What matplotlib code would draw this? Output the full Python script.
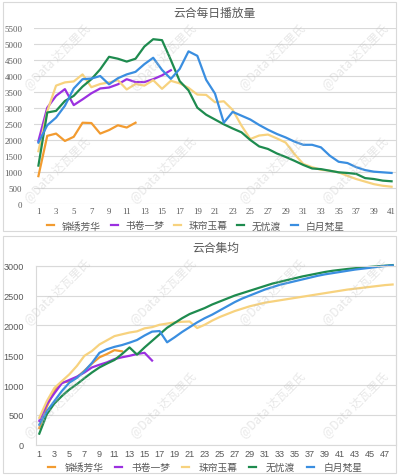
import numpy as np
import matplotlib
matplotlib.use("Agg")
import matplotlib.pyplot as plt
from matplotlib.patches import Rectangle

plt.rcParams['font.family'] = ['Noto Sans CJK SC', 'DejaVu Sans']

# ---- 数据 ----
names = ["锦绣芳华", "书卷一梦", "珠帘玉幕", "无忧渡", "白月梵星"]
colors = ["#F29B30", "#9B30E0", "#F7D27E", "#1E8B4F", "#3A8EE0"]

# 云合每日播放量
daily_jxfh = [870, 2130, 2200, 1970, 2100, 2540, 2530, 2200, 2310, 2460, 2390, 2540]
daily_sjym = [1970, 3010, 3380, 3590, 3090, 3270, 3460, 3610, 3640, 3740, 3900, 3810,
              3810, 3900, 4020, 4180]
daily_zlym = [1650, 2900, 3700, 3800, 3830, 4050, 3650, 3750, 3800, 3870, 3580, 3750,
              3700, 3870, 3600, 3850, 3770, 3630, 3420, 3410, 3180, 3210, 2940, 2450,
              2030, 2140, 2170, 2050, 1920, 1560, 1250, 1150, 1070, 1040, 990, 880,
              780, 700, 620, 570, 540]
daily_wyd = [1200, 2860, 2910, 3220, 3380, 3670, 3900, 4210, 4600, 4540, 4450, 4540,
             4920, 5150, 5120, 4500, 3840, 3550, 3010, 2790, 2640, 2490, 2360, 2240,
             2000, 1800, 1720, 1580, 1470, 1350, 1220, 1110, 1090, 1040, 990, 970,
             940, 810, 780, 730, 710]
daily_byfx = [1920, 2460, 2700, 3070, 3610, 3900, 3920, 4000, 3740, 3930, 4050, 4130,
              4370, 4570, 4190, 3910, 4220, 4770, 4630, 3880, 3450, 2540, 2880, 2760,
              2640, 2470, 2320, 2190, 2080, 1950, 1850, 1850, 1770, 1510, 1320, 1280,
              1150, 1060, 1010, 990, 970]

# 云合集均
avg_jxfh = [280, 640, 905, 1045, 1060, 1130, 1240, 1360, 1465, 1520, 1585, 1565]
avg_sjym = [400, 680, 860, 1030, 1085, 1140, 1210, 1295, 1340, 1380, 1435, 1465,
            1490, 1520, 1540, 1410]
avg_zlym = [450, 730, 950, 1065, 1180, 1320, 1490, 1570, 1680, 1750, 1820, 1850,
            1880, 1900, 1950, 1970, 2010, 2030, 2050, 2060, 2065, 1955, 2010, 2080,
            2140, 2190, 2240, 2280, 2320, 2350, 2380, 2400, 2420, 2440, 2460, 2480,
            2500, 2520, 2540, 2560, 2580, 2600, 2615, 2630, 2645, 2660, 2675, 2685]
avg_wyd = [185, 510, 690, 815, 925, 1015, 1115, 1210, 1295, 1360, 1420, 1520,
           1630, 1510, 1630, 1740, 1850, 1960, 2040, 2120, 2190, 2240, 2290, 2350,
           2400, 2450, 2500, 2540, 2580, 2620, 2660, 2700, 2730, 2760, 2790, 2820,
           2845, 2870, 2895, 2915, 2930, 2945, 2958, 2970, 2980, 2990, 3000, 3010]
avg_byfx = [335, 560, 730, 900, 1040, 1120, 1230, 1370, 1540, 1600, 1640, 1670,
            1710, 1755, 1830, 1895, 1905, 1716, 1800, 1890, 1970, 2050, 2120, 2180,
            2250, 2320, 2390, 2450, 2500, 2550, 2600, 2640, 2680, 2710, 2740, 2770,
            2800, 2830, 2855, 2875, 2895, 2915, 2935, 2950, 2965, 2980, 2995, 3005]

daily = [daily_jxfh, daily_sjym, daily_zlym, daily_wyd, daily_byfx]
avgs = [avg_jxfh, avg_sjym, avg_zlym, avg_wyd, avg_byfx]

TXT = "#595959"
GRID = "#D9D9D9"

fig = plt.figure(figsize=(3.99, 4.77), dpi=100)

# 外框
W, H = 399, 477
for (x0, y0, x1, y1) in [(3, 3, 396, 232), (3, 237, 396, 474)]:
    fig.patches.append(Rectangle((x0 / W, 1 - y1 / H), (x1 - x0) / W, (y1 - y0) / H,
                                 transform=fig.transFigure, fill=False,
                                 edgecolor=GRID, lw=0.8))

# ---- 上图：每日播放量 ----
ax1 = fig.add_axes([34 / W, 1 - 205 / H, 362 / W, 176 / H])
for name, c, ys in zip(names, colors, daily):
    ax1.plot(np.arange(1, len(ys) + 1), ys, color=c, lw=1.6, label=name)
ax1.set_xlim(0.5, 41.5)
ax1.set_ylim(0, 5500)
ax1.set_yticks(np.arange(0, 5501, 500))
ax1.set_xticks(np.arange(1, 42, 2))
ax1.grid(axis="y", color=GRID, lw=0.8)
ax1.set_axisbelow(True)
for s in ax1.spines.values():
    s.set_visible(False)
ax1.tick_params(length=0, labelsize=6.3, colors=TXT, pad=2.5)
for lab in ax1.get_xticklabels() + ax1.get_yticklabels():
    lab.set_family("Liberation Serif")
ax1.tick_params(axis="y", pad=8.5)
fig.text(215 / W, 1 - 13 / H, "云合每日播放量", ha="center", va="center",
         fontsize=8.5, color=TXT)
ax1.legend(loc="center", bbox_to_anchor=(196 / W, 1 - 226.5 / H),
           bbox_transform=fig.transFigure, ncol=5, frameon=False, fontsize=7,
           handlelength=0.7, handletextpad=0.8, columnspacing=1.0,
           labelcolor=TXT)

# ---- 下图：集均 ----
ax2 = fig.add_axes([36 / W, 1 - 445.7 / H, 360 / W, 179 / H])
for name, c, ys in zip(names, colors, avgs):
    ax2.plot(np.arange(1, len(ys) + 1), ys, color=c, lw=1.6, label=name,
             clip_on=False)
ax2.set_xlim(0.56, 48.45)
ax2.set_ylim(0, 3000)
ax2.set_yticks(np.arange(0, 3001, 500))
ax2.set_xticks(np.arange(1, 48, 2))
ax2.grid(axis="y", color=GRID, lw=0.8)
ax2.set_axisbelow(True)
for s in ax2.spines.values():
    s.set_color(GRID)
    s.set_linewidth(0.8)
ax2.tick_params(length=0, labelsize=6.6, colors=TXT, pad=3)
ax2.tick_params(axis="y", pad=8.5)
for lab in ax2.get_xticklabels() + ax2.get_yticklabels():
    lab.set_family("Liberation Sans")
fig.text(216 / W, 1 - 248 / H, "云合集均", ha="center", va="center",
         fontsize=8.5, color=TXT)
ax2.legend(loc="center", bbox_to_anchor=(205 / W, 1 - 468 / H),
           bbox_transform=fig.transFigure, ncol=5, frameon=False, fontsize=7,
           handlelength=0.7, handletextpad=1.0, columnspacing=1.2,
           labelcolor=TXT)

# 水印
for yy in [57, 170, 292, 405]:
    for xx in [57, 163, 272, 355]:
        fig.text(xx / W, 1 - yy / H, "@Data 达瓦里氏", ha="center", va="center",
                 rotation=45, fontsize=8.5, color="#BBBBBB", alpha=0.35, zorder=10)

fig.savefig("out.png", dpi=100)
